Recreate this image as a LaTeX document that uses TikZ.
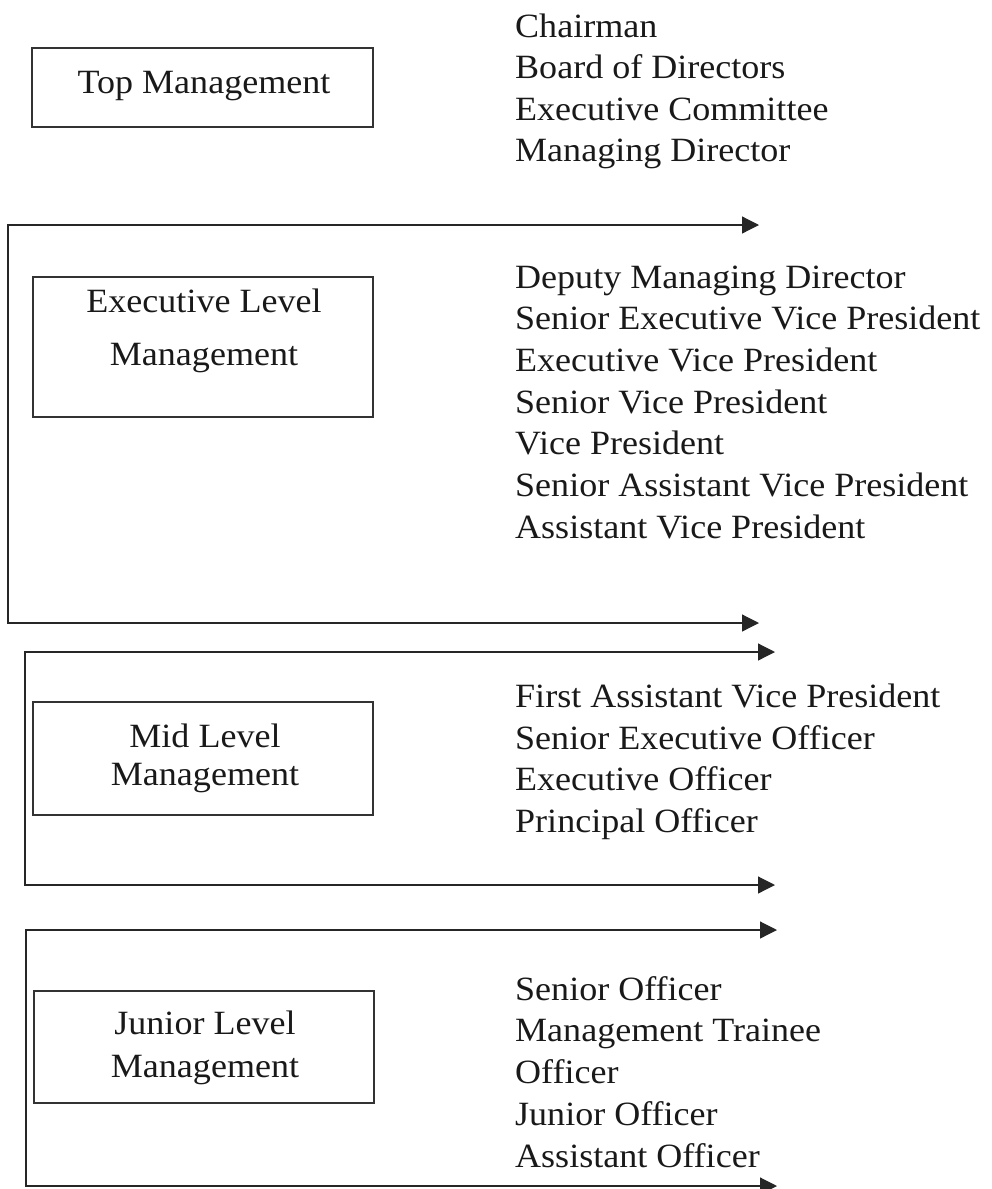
\documentclass[tikz,border=0pt]{standalone}
\usepackage{fontspec}
\setmainfont{Liberation Serif}[FakeStretch=1.06]
\usetikzlibrary{arrows.meta}
\tikzset{
  tierbox/.style={draw=black!80,line width=1.2pt,inner sep=0pt},
  tiername/.style={anchor=base,inner sep=0pt,text=black!90,font=\fontsize{34}{41.5}\selectfont},
  rank/.style={anchor=base west,inner sep=0pt,text=black!90,font=\fontsize{34}{41.5}\selectfont},
  bracket/.style={{Triangle[length=17pt,width=17pt]}-{Triangle[length=17pt,width=17pt]},
                  line width=1.2pt,black!85},
}

\begin{document}
\begin{tikzpicture}[x=1pt,y=-1pt]
  \useasboundingbox (0,0) rectangle (991,1189);
  % level boxes on the left
  \node[tierbox,minimum width=341pt,minimum height=79pt]  (topbox)  at (202.5,87.5) {};
  \node[tierbox,minimum width=340pt,minimum height=140pt] (execbox) at (203,347) {};
  \node[tierbox,minimum width=340pt,minimum height=113pt] (midbox)  at (203,758.5) {};
  \node[tierbox,minimum width=340pt,minimum height=112pt] (jrbox)   at (204,1047) {};
  % box titles
  \node[tiername] (topname)   at (204,93)   {Top Management};
  \node[tiername] (execname1) at (204,312)  {Executive Level};
  \node[tiername] (execname2) at (204,365)  {Management};
  \node[tiername] (midname1)  at (205,747)  {Mid Level};
  \node[tiername] (midname2)  at (205,785)  {Management};
  \node[tiername] (jrname1)   at (205,1034) {Junior Level};
  \node[tiername] (jrname2)   at (205,1077) {Management};
  % ranks of each level
  \foreach \txt [count=\i] in {Chairman,Board of Directors,Executive Committee,Managing Director}
    \node[rank] (top\i) at (515,{37+41.5*(\i-1)}) {\txt};
  \foreach \txt [count=\i] in {Deputy Managing Director,Senior Executive Vice President,
      Executive Vice President,Senior Vice President,Vice President,
      Senior Assistant Vice President,Assistant Vice President}
    \node[rank] (exec\i) at (515,{288+41.67*(\i-1)}) {\txt};
  \foreach \txt [count=\i] in {First Assistant Vice President,Senior Executive Officer,
      Executive Officer,Principal Officer}
    \node[rank] (mid\i) at (515,{707.5+41.5*(\i-1)}) {\txt};
  \foreach \txt [count=\i] in {Senior Officer,Management Trainee,Officer,Junior Officer,Assistant Officer}
    \node[rank] (jr\i) at (515,{1000+41.75*(\i-1)}) {\txt};
  % brackets: head arrow, left rail, tail arrow
  \foreach \nm/\xl/\ya/\yb/\xa/\xb in {exec/8/225/623/759/759,mid/25/652/885/775/775,jr/26/930/1186/777/777} {
    \coordinate (\nm-head) at (\xa,\ya);
    \coordinate (\nm-tail) at (\xb,\yb);
    \coordinate (\nm-rail) at (\xl,\ya);
    \draw[bracket] (\nm-head) -- (\nm-rail) |- (\nm-tail);
  }
\end{tikzpicture}
\end{document}
